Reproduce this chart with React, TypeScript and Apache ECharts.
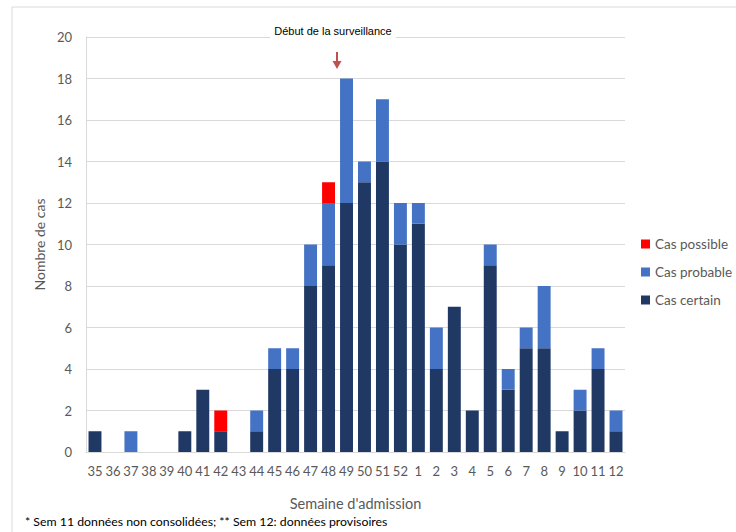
import React, { useEffect, useRef } from "react";
import * as echarts from "echarts";

const weeks = ["35","36","37","38","39","40","41","42","43","44","45","46","47","48","49","50","51","52","1","2","3","4","5","6","7","8","9","10","11","12"];
const casCertain = [1,0,0,0,0,1,3,1,0,1,4,4,8,9,12,13,14,10,11,4,7,2,9,3,5,5,1,2,4,1];
const casProbable = [0,0,1,0,0,0,0,0,0,1,1,1,2,3,6,1,3,2,1,2,0,0,1,1,1,3,0,1,1,1];
const casPossible = [0,0,0,0,0,0,0,1,0,0,0,0,0,1,0,0,0,0,0,0,0,0,0,0,0,0,0,0,0,0];
const yTicks = { min: 0, max: 20, interval: 2 };

const FONT = "Lato, 'Open Sans', sans-serif";
const GREY = "#595959";

export default function App() {
  const ref = useRef<HTMLDivElement>(null);
  useEffect(() => {
    document.body.style.margin = "0";
    const chart = echarts.init(ref.current!, null, { renderer: "svg" });
    const z = (v: number[]) => v.map((x) => (x === 0 ? null : x));
    chart.setOption({
      animation: false,
      backgroundColor: "#ffffff",
      textStyle: { fontFamily: FONT },
      grid: { left: 86, right: 111, top: 37, bottom: 80 },
      legend: {
        orient: "vertical",
        left: 636,
        top: 232,
        itemWidth: 9,
        itemHeight: 9,
        itemGap: 14,
        icon: "rect",
        data: ["Cas possible", "Cas probable", "Cas certain"],
        textStyle: { color: GREY, fontSize: 13.5, fontFamily: FONT },
      },
      xAxis: {
        type: "category",
        data: weeks,
        name: "Semaine d'admission",
        nameLocation: "middle",
        nameGap: 44,
        nameTextStyle: { color: GREY, fontSize: 14.5, fontFamily: FONT },
        axisLine: { lineStyle: { color: "#d9d9d9", width: 1 } },
        axisTick: { show: false },
        axisLabel: { color: GREY, fontSize: 13, margin: 12, interval: 0, fontFamily: FONT },
      },
      yAxis: {
        type: "value",
        min: yTicks.min,
        max: yTicks.max,
        interval: yTicks.interval,
        name: "Nombre de cas",
        nameLocation: "middle",
        nameGap: 40,
        nameTextStyle: { color: GREY, fontSize: 14, fontFamily: FONT },
        axisLine: { show: true, lineStyle: { color: "#d9d9d9" } },
        axisTick: { show: false },
        axisLabel: { color: GREY, fontSize: 13, margin: 14, fontFamily: FONT },
        splitLine: { lineStyle: { color: "#d9d9d9" } },
      },
      series: [
        { name: "Cas certain", type: "bar", stack: "s", data: z(casCertain), barCategoryGap: "28%", itemStyle: { color: "#1f3864" } },
        { name: "Cas probable", type: "bar", stack: "s", data: z(casProbable), itemStyle: { color: "#4472c4" } },
        { name: "Cas possible", type: "bar", stack: "s", data: z(casPossible), itemStyle: { color: "#ff0000" } },
      ],
      graphic: [
        { type: "line", shape: { x1: 12, y1: 7, x2: 736, y2: 7 }, style: { stroke: "#d9d9d9", lineWidth: 1 }, silent: true },
        { type: "line", shape: { x1: 12, y1: 7, x2: 12, y2: 532 }, style: { stroke: "#d9d9d9", lineWidth: 1 }, silent: true },
        { type: "rect", shape: { x: 270, y: 30, width: 126, height: 14 }, style: { fill: "#ffffff" }, z: 100 },
        {
          type: "text",
          x: 333,
          y: 31,
          z: 101,
          style: { text: "Début de la surveillance", fill: "#000000", font: "11px 'Liberation Sans', Arial, sans-serif", textAlign: "center", textVerticalAlign: "middle" },
        },
        { type: "line", shape: { x1: 337, y1: 52, x2: 337, y2: 62 }, style: { stroke: "#c0504d", lineWidth: 2 }, z: 101 },
        { type: "polygon", shape: { points: [[332.5, 61], [341.5, 61], [337, 69]] }, style: { fill: "#c0504d" }, z: 101 },
        {
          type: "text",
          x: 25,
          y: 521,
          style: { text: "* Sem 11 données non consolidées; ** Sem 12: données provisoires", fill: "#000000", font: "12.3px Lato, 'Open Sans', sans-serif", textVerticalAlign: "middle" },
        },
      ],
    });
    return () => chart.dispose();
  }, []);
  return <div ref={ref} style={{ position: "absolute", left: 0, top: 0, width: 736, height: 532 }} />;
}
